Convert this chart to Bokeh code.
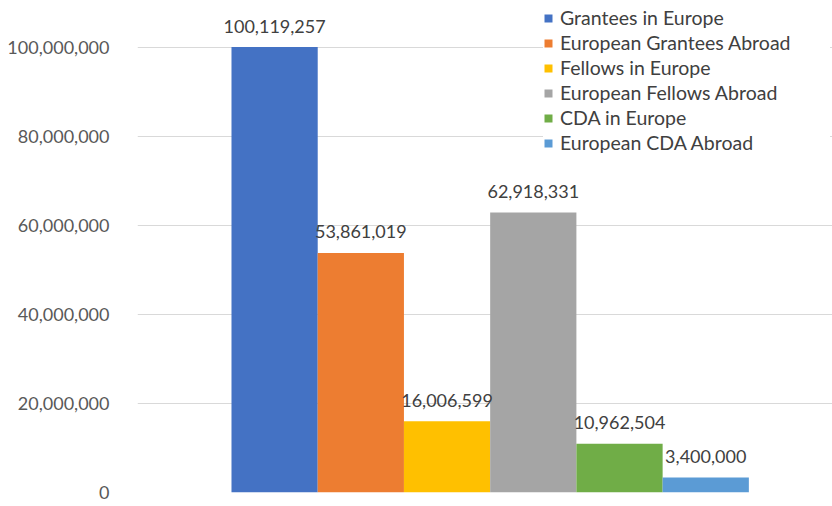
from bokeh.plotting import figure
from bokeh.models import (ColumnDataSource, Range1d, NumeralTickFormatter,
                          SingleIntervalTicker, LabelSet)
from bokeh.core.properties import value
from bokeh.embed import file_html
from bokeh.resources import INLINE

# ---- data ----
series = ["Grantees in Europe", "European Grantees Abroad", "Fellows in Europe",
          "European Fellows Abroad", "CDA in Europe", "European CDA Abroad"]
values = [100119257, 53861019, 16006599, 62918331, 10962504, 3400000]
colors = ["#4472C4", "#ED7D31", "#FFC000", "#A5A5A5", "#70AD47", "#5B9BD5"]

FONT = "Lato"

src = ColumnDataSource(dict(
    x=list(range(len(series))),
    value=values,
    name=series,
    color=colors,
    label=[f"{v:,}" for v in values],
))

p = figure(width=832, height=506, output_backend="svg", toolbar_location=None,
           x_range=Range1d(-1.59, 6.47), y_range=Range1d(0, 110_600_000),
           min_border_left=137, min_border_right=0, min_border_top=0,
           min_border_bottom=14)
p.outline_line_color = None
p.background_fill_color = "white"

p.vbar(x="x", top="value", width=1.0, source=src, fill_color="color",
       line_color=None, legend_field="name")

labels = LabelSet(x="x", y="value", text="label", source=src, y_offset=21,
                  text_align="center", text_baseline="middle",
                  text_font=value(FONT), text_font_size=value("18px"),
                  text_color="#404040")
p.add_layout(labels)

p.xaxis.visible = False
p.xgrid.visible = False
p.yaxis.ticker = SingleIntervalTicker(interval=20_000_000)
p.yaxis.formatter = NumeralTickFormatter(format="0,0")
p.yaxis.axis_line_color = None
p.yaxis.major_tick_line_color = None
p.yaxis.minor_tick_line_color = None
p.yaxis.major_label_standoff = 22
p.yaxis.major_label_text_font = FONT
p.yaxis.major_label_text_font_size = "18px"
p.yaxis.major_label_text_color = "#595959"
p.ygrid.grid_line_color = "#D9D9D9"
p.ygrid.grid_line_width = 1

lg = p.legend[0]
lg.location = (406, 338)
lg.background_fill_color = "white"
lg.background_fill_alpha = 1.0
lg.border_line_color = None
lg.padding = 10
lg.margin = 0
lg.spacing = 2
lg.glyph_width = 10
lg.glyph_height = 10
lg.label_height = 21
lg.label_width = 270
lg.label_standoff = 7
lg.label_text_font = FONT
lg.label_text_font_size = "19.5px"
lg.label_text_color = "#404040"

open("out.html", "w").write(file_html(p, INLINE))
